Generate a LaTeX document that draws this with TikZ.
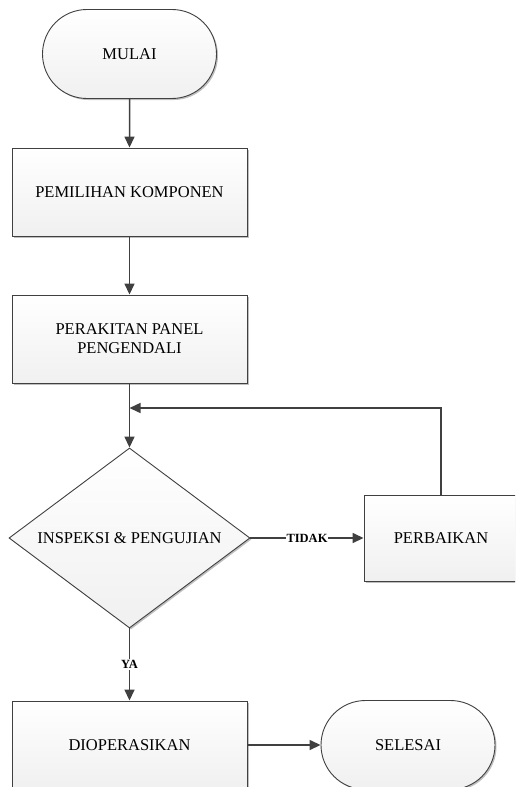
\documentclass[tikz,border=0pt]{standalone}
\usepackage{fontspec}
\setmainfont{Liberation Serif}
\usepackage{tikz}
\usetikzlibrary{arrows.meta,positioning,shapes.geometric,shapes.misc,shadows}
\definecolor{garis}{HTML}{404040}
\definecolor{isi}{HTML}{F0F0F0}

\begin{document}
\begin{tikzpicture}[x=1pt, y=-1pt, >={Triangle[length=11pt,width=10pt]}, font=\fontsize{16.5}{19}\selectfont]
\tikzstyle{kotak} = [draw=garis, line width=0.9pt, top color=white, bottom color=isi, drop shadow={shadow xshift=1.5pt, shadow yshift=-1.5pt, fill=gray!50, opacity=1}, align=center, inner sep=0pt]
\tikzstyle{proses} = [kotak, rectangle, minimum width=235pt, minimum height=88pt]
\tikzstyle{terminal} = [kotak, rounded rectangle, minimum width=174pt, minimum height=89pt]
\tikzstyle{keputusan} = [kotak, diamond, aspect=1.34, minimum width=241pt, minimum height=180pt]
\tikzstyle{panah} = [->, draw=garis, line width=1.5pt]
\tikzstyle{ket} = [fill=white, inner sep=1pt, font=\fontsize{12.5}{14}\selectfont\bfseries]
\clip (0,0) rectangle (515,787);
\useasboundingbox (0,0) rectangle (515,787);
\node[terminal] (mulai) at (129.5,54) {MULAI};
\node[proses] (pilih) at (129.5,192) {PEMILIHAN KOMPONEN};
\node[proses] (rakit) at (129.5,339) {PERAKITAN PANEL\\PENGENDALI};
\node[keputusan] (uji) at (129.5,538) {INSPEKSI \& PENGUJIAN};
\node[proses, minimum width=154pt, minimum height=86pt] (fix) at (441,538) {PERBAIKAN};
\node[proses] (operasi) at (129.5,745) {DIOPERASIKAN};
\node[terminal] (selesai) at (408,745) {SELESAI};
\coordinate (gabung) at (129.5,408);
% alur utama
\draw[panah] (mulai) -- (pilih);
\draw[panah] (pilih) -- (rakit);
\draw[panah] (rakit) -- (uji);
\draw[panah] (uji) -- node[ket] {TIDAK} (fix);
\draw[panah] (fix.north) |- (gabung);
\draw[panah] (uji) -- node[ket] {YA} (operasi);
\draw[panah] (operasi) -- (selesai);
\end{tikzpicture}
\end{document}
